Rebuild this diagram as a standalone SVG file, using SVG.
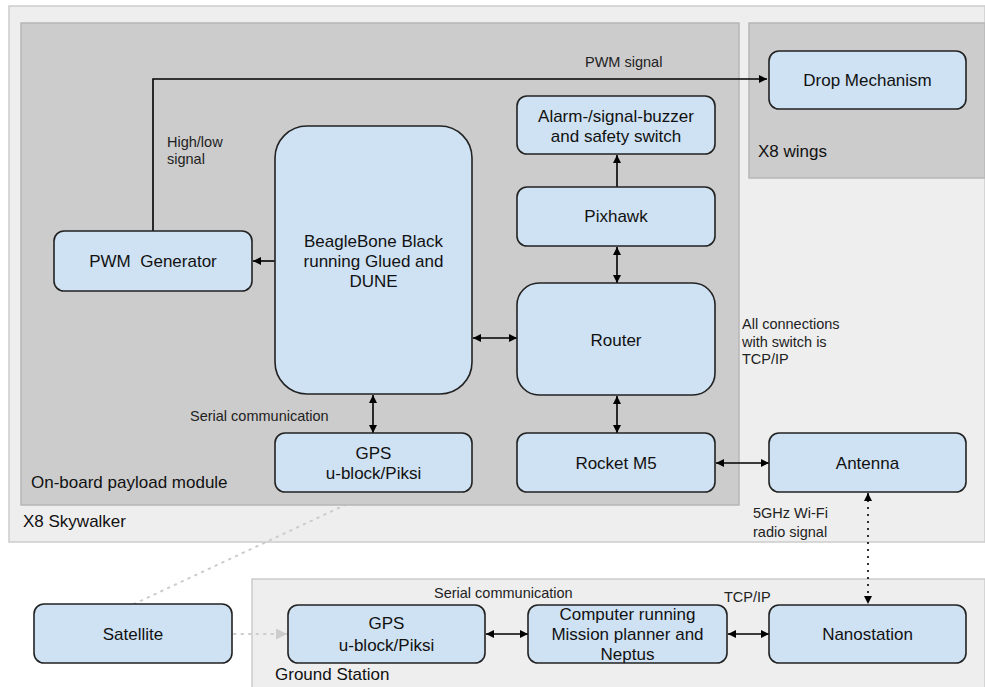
<svg xmlns="http://www.w3.org/2000/svg" width="985" height="687" viewBox="0 0 985 687">
<defs>
<marker id="ah" viewBox="0 0 10 10" refX="10" refY="5" markerWidth="8" markerHeight="8" markerUnits="userSpaceOnUse" orient="auto-start-reverse">
<path d="M0,0 L10,5 L0,10 z" fill="#000"/>
</marker>
<marker id="ahg" viewBox="0 0 10 10" refX="10" refY="5" markerWidth="11" markerHeight="11" markerUnits="userSpaceOnUse" orient="auto">
<path d="M0,0 L10,5 L0,10 z" fill="#cccccc"/>
</marker>
<style>
.node{fill:#cfe2f3;stroke:#222;stroke-width:1.6}
.nt{font-family:"Liberation Sans",Arial,sans-serif;font-size:17px;fill:#111;text-anchor:middle;dominant-baseline:central}
.lab{font-family:"Liberation Sans",Arial,sans-serif;font-size:14.5px;fill:#222}
.clab{font-family:"Liberation Sans",Arial,sans-serif;font-size:17px;fill:#111}
.con{fill:none;stroke:#000;stroke-width:1.6}
.dot{fill:none;stroke:#cccccc;stroke-width:2;stroke-dasharray:1.5 6;stroke-linecap:round}
</style>
</defs>
<rect width="985" height="687" fill="#fff"/>
<g id="x8-skywalker">
<rect x="9" y="6" width="976" height="536" fill="#eeeeee" stroke="#cccccc" stroke-width="1.5"/>
<text class="clab" x="23" y="527">X8 Skywalker</text>
</g>
<g id="ground-station">
<rect x="252" y="579" width="733" height="110" fill="#eeeeee" stroke="#cccccc" stroke-width="1.5"/>
<text class="clab" x="275" y="680">Ground Station</text>
</g>
<g id="satellite-to-gps-line">
<line class="dot" x1="134" y1="604" x2="345" y2="505"/>
</g>
<g id="payload-module">
<rect x="21" y="23" width="718" height="482" fill="#cccccc" stroke="#b7b7b7" stroke-width="1.5"/>
<text class="clab" x="31" y="488">On-board payload module</text>
</g>
<g id="x8-wings">
<rect x="749" y="23" width="236" height="155" fill="#cccccc" stroke="#b7b7b7" stroke-width="1.5"/>
<text class="clab" x="758" y="157">X8 wings</text>
</g>
<g id="connectors">
<path class="con" d="M153,231 V79 H767" marker-end="url(#ah)"/>
<line class="con" x1="275" y1="261" x2="253" y2="261" marker-end="url(#ah)"/>
<line class="con" x1="617" y1="187" x2="617" y2="155" marker-end="url(#ah)"/>
<line class="con" x1="617" y1="247" x2="617" y2="283" marker-start="url(#ah)" marker-end="url(#ah)"/>
<line class="con" x1="473" y1="338" x2="517" y2="338" marker-start="url(#ah)" marker-end="url(#ah)"/>
<line class="con" x1="617" y1="396" x2="617" y2="433" marker-start="url(#ah)" marker-end="url(#ah)"/>
<line class="con" x1="373" y1="395" x2="373" y2="433" marker-start="url(#ah)" marker-end="url(#ah)"/>
<line class="con" x1="716" y1="463" x2="769" y2="463" marker-start="url(#ah)" marker-end="url(#ah)"/>
<line class="con" x1="868" y1="493" x2="868" y2="604" stroke-dasharray="2 5" marker-start="url(#ah)" marker-end="url(#ah)"/>
<line class="con" x1="486" y1="634" x2="528" y2="634" marker-start="url(#ah)" marker-end="url(#ah)"/>
<line class="con" x1="728" y1="634" x2="769" y2="634" marker-start="url(#ah)" marker-end="url(#ah)"/>
<line class="dot" x1="234" y1="634" x2="287" y2="634" marker-end="url(#ahg)"/>
<text class="lab" x="585" y="67">PWM signal</text>
<text class="lab" x="167" y="147">High/low</text>
<text class="lab" x="167" y="164">signal</text>
<text class="lab" x="190" y="421">Serial communication</text>
<text class="lab" x="742" y="329">All connections</text>
<text class="lab" x="742" y="347">with switch is</text>
<text class="lab" x="742" y="364">TCP/IP</text>
<text class="lab" x="753" y="518">5GHz Wi-Fi</text>
<text class="lab" x="753" y="537">radio signal</text>
<text class="lab" x="434" y="598">Serial communication</text>
<text class="lab" x="724" y="602">TCP/IP</text>
</g>
<g id="drop-mechanism">
<rect class="node" x="769" y="51" width="197" height="58" rx="10"/>
<text class="nt" x="867.5" y="80">Drop Mechanism</text>
</g>
<g id="alarm">
<rect class="node" x="517" y="96" width="198" height="58" rx="10"/>
<text class="nt" x="616" y="116">Alarm-/signal-buzzer</text>
<text class="nt" x="616" y="136">and safety switch</text>
</g>
<g id="pixhawk">
<rect class="node" x="517" y="187" width="198" height="59" rx="10"/>
<text class="nt" x="616" y="216">Pixhawk</text>
</g>
<g id="pwm-generator">
<rect class="node" x="54" y="231" width="198" height="60" rx="10"/>
<text class="nt" x="153" y="261" xml:space="preserve">PWM  Generator</text>
</g>
<g id="beaglebone">
<rect class="node" x="275" y="126" width="197" height="268" rx="32"/>
<text class="nt" x="373.5" y="241">BeagleBone Black</text>
<text class="nt" x="373.5" y="261">running Glued and</text>
<text class="nt" x="373.5" y="281">DUNE</text>
</g>
<g id="router">
<rect class="node" x="517" y="283" width="198" height="112" rx="22"/>
<text class="nt" x="616" y="340">Router</text>
</g>
<g id="gps-onboard">
<rect class="node" x="275" y="433" width="197" height="59" rx="10"/>
<text class="nt" x="373.5" y="453">GPS</text>
<text class="nt" x="373.5" y="473">u-block/Piksi</text>
</g>
<g id="rocket-m5">
<rect class="node" x="517" y="433" width="198" height="59" rx="10"/>
<text class="nt" x="616" y="463">Rocket M5</text>
</g>
<g id="antenna">
<rect class="node" x="769" y="433" width="197" height="59" rx="10"/>
<text class="nt" x="867.5" y="463">Antenna</text>
</g>
<g id="satellite">
<rect class="node" x="34" y="604" width="198" height="59" rx="10"/>
<text class="nt" x="133" y="634">Satellite</text>
</g>
<g id="gps-ground">
<rect class="node" x="288" y="605" width="197" height="58" rx="10"/>
<text class="nt" x="386.5" y="623">GPS</text>
<text class="nt" x="386.5" y="645">u-block/Piksi</text>
</g>
<g id="computer">
<rect class="node" x="528" y="605" width="199" height="58" rx="10"/>
<text class="nt" x="627.5" y="614">Computer running</text>
<text class="nt" x="627.5" y="634">Mission planner and</text>
<text class="nt" x="627.5" y="654">Neptus</text>
</g>
<g id="nanostation">
<rect class="node" x="769" y="605" width="197" height="58" rx="10"/>
<text class="nt" x="867.5" y="634">Nanostation</text>
</g>
</svg>
